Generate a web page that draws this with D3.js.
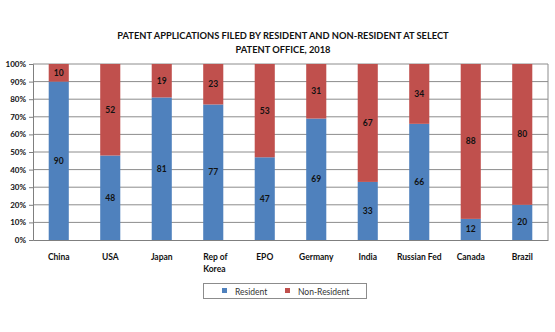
<!DOCTYPE html>
<html><head><meta charset="utf-8">
<script src="https://cdn.jsdelivr.net/npm/d3@7"></script>
<style>body{margin:0;background:#fff}svg{display:block}text{font-family:Lato,"Open Sans",sans-serif}</style>
</head><body><svg id="c" width="555" height="332"></svg>
<script>
const categories = ["China","USA","Japan","Rep of Korea","EPO","Germany","India","Russian Fed","Canada","Brazil"];
const categoryLines = [["China"],["USA"],["Japan"],["Rep of","Korea"],["EPO"],["Germany"],["India"],["Russian Fed"],["Canada"],["Brazil"]];
const resident = [90,48,81,77,47,69,33,66,12,20];
const nonResident = [10,52,19,23,53,31,67,34,88,80];
const yTicks = [0,10,20,30,40,50,60,70,80,90,100];
const seriesNames = ["Resident","Non-Resident"];
const colors = ["#4F81BD","#C0504D"];

const svg = d3.select("#c");
const L = 33, R = 548, T = 64, B = 240;
const x = d3.scaleBand().domain(categories).range([L, R]).paddingInner(0.61).paddingOuter(0.305);
const y = d3.scaleLinear().domain([0, 100]).range([B, T]);

// title
svg.append("text").attr("x", 283).attr("y", 39).attr("text-anchor","middle")
  .attr("font-size", 9.3).attr("font-weight","bold").attr("fill","#111")
  .text("PATENT APPLICATIONS FILED BY RESIDENT AND NON-RESIDENT AT SELECT");
svg.append("text").attr("x", 283).attr("y", 53).attr("text-anchor","middle")
  .attr("font-size", 9.3).attr("font-weight","bold").attr("fill","#111")
  .text("PATENT OFFICE, 2018");

// gridlines
svg.append("g").selectAll("line").data(yTicks.filter(d => d > 0)).join("line")
  .attr("x1", L).attr("x2", R).attr("y1", d => y(d)).attr("y2", d => y(d))
  .attr("stroke", "#8c8c8c").attr("stroke-width", 1);
// right border
svg.append("line").attr("x1", R).attr("x2", R).attr("y1", T).attr("y2", B).attr("stroke","#8c8c8c");

// stacks
const stackData = categories.map((c, i) => ({cat: c, r: resident[i], n: nonResident[i]}));
const stack = d3.stack().keys(["r","n"])(stackData);
const g = svg.append("g");
stack.forEach((s, si) => {
  g.selectAll(null).data(s).join("rect")
    .attr("x", d => x(d.data.cat)).attr("width", x.bandwidth())
    .attr("y", d => y(d[1])).attr("height", d => y(d[0]) - y(d[1]))
    .attr("fill", colors[si]);
  g.selectAll(null).data(s).join("text")
    .attr("x", d => x(d.data.cat) + x.bandwidth()/2)
    .attr("y", d => (y(d[0]) + y(d[1]))/2 + 3)
    .attr("text-anchor","middle").attr("font-size", 8.5).attr("font-weight","bold").attr("fill","#111")
    .text(d => d.data[si === 0 ? "r" : "n"]);
});

// y axis
const ya = svg.append("g").attr("transform", `translate(${L},0)`)
  .call(d3.axisLeft(y).tickValues(yTicks).tickFormat(d => d + "%").tickSize(4).tickPadding(3));
ya.select(".domain").attr("stroke","#7f7f7f");
ya.selectAll(".tick line").attr("stroke","#7f7f7f");
ya.selectAll("text").attr("font-size", 8).attr("font-weight","bold").attr("fill","#111").attr("font-family","Lato,sans-serif");

// x axis
const xa = svg.append("g").attr("transform", `translate(0,${B})`)
  .call(d3.axisBottom(x).tickSize(0).tickFormat(""));
xa.select(".domain").attr("stroke","#7f7f7f");
xa.selectAll(".tick").each(function(d, i) {
  const t = d3.select(this).append("text").attr("fill","#111").attr("font-size", 8.5)
    .attr("font-weight","bold").attr("text-anchor", categoryLines[i].length > 1 ? "start" : "middle")
    .attr("x", categoryLines[i].length > 1 ? -x.bandwidth()/2 : 0);
  categoryLines[i].forEach((ln, k) => t.append("tspan")
    .attr("x", categoryLines[i].length > 1 ? -x.bandwidth()/2 : 0).attr("y", 20 + k * 12).text(ln));
});

// legend
const lg = svg.append("g");
lg.append("rect").attr("x", 203.5).attr("y", 283.5).attr("width", 163).attr("height", 15)
  .attr("fill","#fff").attr("stroke","#8c8c8c");
const lx = [222, 285];
seriesNames.forEach((n, i) => {
  lg.append("rect").attr("x", lx[i]).attr("y", 288).attr("width", 5).attr("height", 5).attr("fill", colors[i]);
  lg.append("text").attr("x", lx[i] + 13).attr("y", 294.5).attr("font-size", 8.5).attr("fill","#333").text(n);
});
</script></body></html>
